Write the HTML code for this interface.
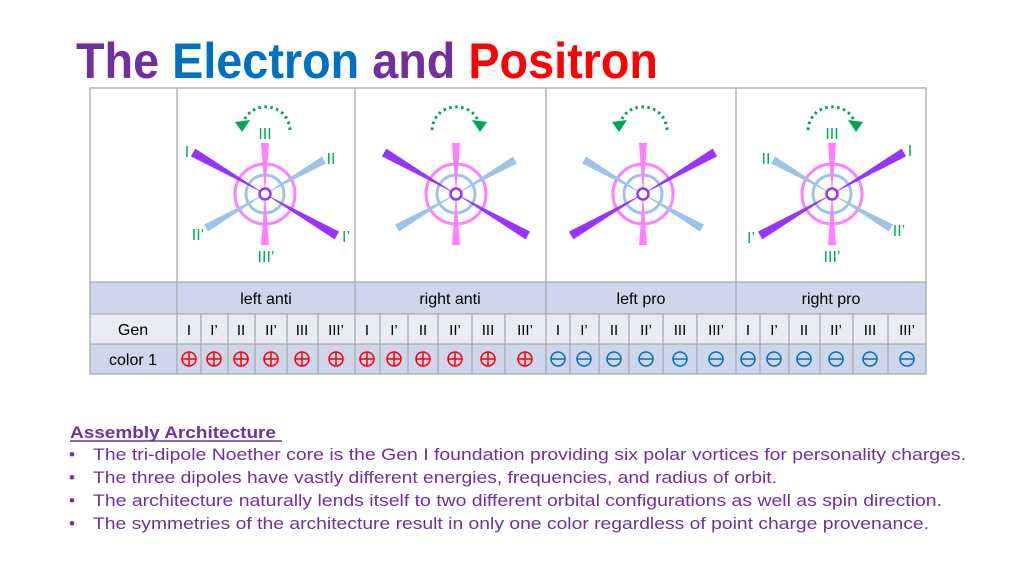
<!DOCTYPE html>
<html><head><meta charset="utf-8"><style>html,body{margin:0;padding:0;background:#fff}svg{display:block}</style></head>
<body>
<svg width="1024" height="576" viewBox="0 0 1024 576" xmlns="http://www.w3.org/2000/svg" font-family="Liberation Sans, sans-serif">
<defs>
<g id="core">
  <circle r="30" fill="none" stroke="#ff80ff" stroke-width="3"/>
  <circle r="19" fill="none" stroke="#9dc3e6" stroke-width="3"/>
</g>
<polygon id="pk" points="0,0 51,-4 51,4" fill="#ff80ff"/>
<polygon id="pu" points="0,0 83,-4.5 83,4.5" fill="#9933ff"/>
<polygon id="bl" points="0,0 68,-4 68,4" fill="#9dc3e6"/>
</defs>
<rect width="1024" height="576" fill="#fff"/>
<text x="76" y="78" font-size="50" font-weight="bold" textLength="582" lengthAdjust="spacingAndGlyphs"><tspan fill="#7030a0">The </tspan><tspan fill="#0070c0">Electron </tspan><tspan fill="#7030a0">and </tspan><tspan fill="#ff0000">Positron</tspan></text>

<rect x="90" y="282" width="836" height="32" fill="#cfd5ea"/>
<rect x="90" y="314" width="836" height="30" fill="#e9ebf5"/>
<rect x="90" y="344" width="836" height="30" fill="#cfd5ea"/>
<g stroke="#ababab" stroke-width="1.3" fill="none">
<rect x="90" y="88" width="836" height="286"/>
<line x1="90" y1="282" x2="926" y2="282"/><line x1="90" y1="314" x2="926" y2="314"/><line x1="90" y1="344" x2="926" y2="344"/>
<line x1="177" y1="88" x2="177" y2="374"/><line x1="355" y1="88" x2="355" y2="374"/><line x1="546" y1="88" x2="546" y2="374"/><line x1="736" y1="88" x2="736" y2="374"/>
<path d="M201 314V374M228 314V374M255 314V374M287 314V374M318 314V374M380 314V374M408 314V374M438 314V374M472 314V374M505 314V374M570 314V374M599 314V374M629 314V374M663 314V374M697 314V374M760 314V374M789 314V374M820 314V374M853 314V374M888 314V374"/>
</g>
<g font-size="16" fill="#000" text-anchor="middle">
<text x="266" y="304">left anti</text><text x="450" y="304">right anti</text><text x="641" y="304">left pro</text><text x="831" y="304">right pro</text>
<text x="133" y="335">Gen</text><text x="133" y="365">color 1</text>
</g>
<g font-size="15" fill="#000" text-anchor="middle">
<text x="189" y="335">I</text><text x="214" y="335">I’</text><text x="241" y="335">II</text><text x="271" y="335">II’</text><text x="302" y="335">III</text><text x="336" y="335">III’</text>
<text x="367" y="335">I</text><text x="394" y="335">I’</text><text x="423" y="335">II</text><text x="455" y="335">II’</text><text x="488" y="335">III</text><text x="525" y="335">III’</text>
<text x="558" y="335">I</text><text x="584" y="335">I’</text><text x="614" y="335">II</text><text x="646" y="335">II’</text><text x="680" y="335">III</text><text x="716" y="335">III’</text>
<text x="748" y="335">I</text><text x="774" y="335">I’</text><text x="804" y="335">II</text><text x="836" y="335">II’</text><text x="870" y="335">III</text><text x="907" y="335">III’</text>
</g>
<g fill="none" stroke="#ff0000" stroke-width="1.5">
<g transform="translate(189,359)"><circle r="7"/><path d="M-7 0H7M0 -7V7"/></g>
<g transform="translate(214,359)"><circle r="7"/><path d="M-7 0H7M0 -7V7"/></g>
<g transform="translate(241,359)"><circle r="7"/><path d="M-7 0H7M0 -7V7"/></g>
<g transform="translate(271,359)"><circle r="7"/><path d="M-7 0H7M0 -7V7"/></g>
<g transform="translate(302,359)"><circle r="7"/><path d="M-7 0H7M0 -7V7"/></g>
<g transform="translate(336,359)"><circle r="7"/><path d="M-7 0H7M0 -7V7"/></g>
<g transform="translate(367,359)"><circle r="7"/><path d="M-7 0H7M0 -7V7"/></g>
<g transform="translate(394,359)"><circle r="7"/><path d="M-7 0H7M0 -7V7"/></g>
<g transform="translate(423,359)"><circle r="7"/><path d="M-7 0H7M0 -7V7"/></g>
<g transform="translate(455,359)"><circle r="7"/><path d="M-7 0H7M0 -7V7"/></g>
<g transform="translate(488,359)"><circle r="7"/><path d="M-7 0H7M0 -7V7"/></g>
<g transform="translate(525,359)"><circle r="7"/><path d="M-7 0H7M0 -7V7"/></g>
</g>
<g fill="none" stroke="#0070c0" stroke-width="1.5">
<g transform="translate(558,359)"><circle r="7"/><path d="M-7 0H7"/></g>
<g transform="translate(584,359)"><circle r="7"/><path d="M-7 0H7"/></g>
<g transform="translate(614,359)"><circle r="7"/><path d="M-7 0H7"/></g>
<g transform="translate(646,359)"><circle r="7"/><path d="M-7 0H7"/></g>
<g transform="translate(680,359)"><circle r="7"/><path d="M-7 0H7"/></g>
<g transform="translate(716,359)"><circle r="7"/><path d="M-7 0H7"/></g>
<g transform="translate(748,359)"><circle r="7"/><path d="M-7 0H7"/></g>
<g transform="translate(774,359)"><circle r="7"/><path d="M-7 0H7"/></g>
<g transform="translate(804,359)"><circle r="7"/><path d="M-7 0H7"/></g>
<g transform="translate(836,359)"><circle r="7"/><path d="M-7 0H7"/></g>
<g transform="translate(870,359)"><circle r="7"/><path d="M-7 0H7"/></g>
<g transform="translate(907,359)"><circle r="7"/><path d="M-7 0H7"/></g>
</g>

<g transform="translate(265,194)">
<use href="#core"/>
<use href="#bl" transform="rotate(330)"/><use href="#bl" transform="rotate(150)"/>
<use href="#pu" transform="rotate(210)"/><use href="#pu" transform="rotate(30)"/>
<use href="#pk" transform="rotate(90)"/><use href="#pk" transform="rotate(270)"/>
<circle r="5.5" fill="#fff" stroke="#9933ff" stroke-width="2.5"/>
</g>
<g transform="translate(456,194)">
<use href="#core"/>
<use href="#bl" transform="rotate(330)"/><use href="#bl" transform="rotate(150)"/>
<use href="#pu" transform="rotate(210)"/><use href="#pu" transform="rotate(30)"/>
<use href="#pk" transform="rotate(90)"/><use href="#pk" transform="rotate(270)"/>
<circle r="5.5" fill="#fff" stroke="#9933ff" stroke-width="2.5"/>
</g>
<g transform="translate(643,194)">
<use href="#core"/>
<use href="#bl" transform="rotate(210)"/><use href="#bl" transform="rotate(30)"/>
<use href="#pu" transform="rotate(330)"/><use href="#pu" transform="rotate(150)"/>
<use href="#pk" transform="rotate(90)"/><use href="#pk" transform="rotate(270)"/>
<circle r="5.5" fill="#fff" stroke="#9933ff" stroke-width="2.5"/>
</g>
<g transform="translate(832,194)">
<use href="#core"/>
<use href="#bl" transform="rotate(210)"/><use href="#bl" transform="rotate(30)"/>
<use href="#pu" transform="rotate(330)"/><use href="#pu" transform="rotate(150)"/>
<use href="#pk" transform="rotate(90)"/><use href="#pk" transform="rotate(270)"/>
<circle r="5.5" fill="#fff" stroke="#9933ff" stroke-width="2.5"/>
</g>

<g stroke="#00a651" stroke-width="3" fill="none" stroke-dasharray="2.5 3.5">
<path d="M290 130 C288 102 252 100 244 121"/>
<path d="M432 130 C434 102 470 100 478 121"/>
<path d="M667 130 C665 102 629 100 621 121"/>
<path d="M808 130 C810 102 846 100 854 121"/>
</g>
<g fill="#00a651">
<polygon points="235,122 250,120 242,132"/>
<polygon points="487,122 472,120 480,132"/>
<polygon points="612,122 627,120 619,132"/>
<polygon points="863,122 848,120 856,132"/>
</g>

<g fill="#00b050" font-size="16" text-anchor="middle">
<text x="187" y="157">I</text><text x="331" y="164">II</text><text x="265" y="139">III</text>
<text x="198" y="240">II’</text><text x="346" y="242">I’</text><text x="266" y="262">III’</text>
<text x="832" y="139">III</text><text x="766" y="164">II</text><text x="910" y="156">I</text>
<text x="751" y="243">I’</text><text x="899" y="236">II’</text><text x="832" y="262">III’</text>
</g>

<g fill="#7030a0" font-size="17">
<text x="70" y="438" font-weight="bold" textLength="206" lengthAdjust="spacingAndGlyphs">Assembly Architecture</text>
<line x1="70" y1="441" x2="282" y2="441" stroke="#7030a0" stroke-width="1.5"/>
<text x="69" y="460">•</text><text x="69" y="483">•</text><text x="69" y="506">•</text><text x="69" y="529">•</text>
<text x="93" y="460" textLength="873" lengthAdjust="spacingAndGlyphs">The tri-dipole Noether core is the Gen I foundation providing six polar vortices for personality charges.</text>
<text x="93" y="483" textLength="684" lengthAdjust="spacingAndGlyphs">The three dipoles have vastly different energies, frequencies, and radius of orbit.</text>
<text x="93" y="506" textLength="849" lengthAdjust="spacingAndGlyphs">The architecture naturally lends itself to two different orbital configurations as well as spin direction.</text>
<text x="93" y="529" textLength="836" lengthAdjust="spacingAndGlyphs">The symmetries of the architecture result in only one color regardless of point charge provenance.</text>
</g>
</svg>
</body></html>
